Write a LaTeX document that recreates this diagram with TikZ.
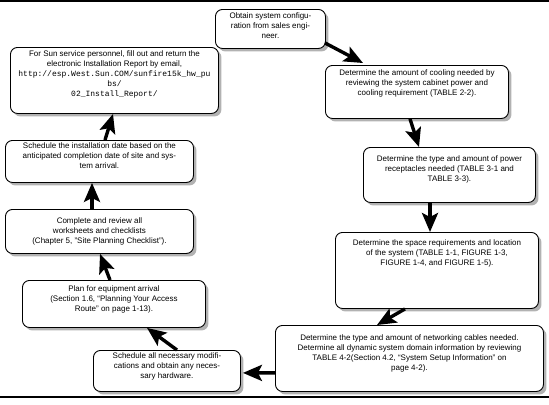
\documentclass[tikz,border=0pt]{standalone}
\usepackage{fontspec}
\setmainfont{Liberation Sans}
\setmonofont{Liberation Mono}
\usetikzlibrary{arrows.meta,shadows,calc}

\newcommand{\bxt}[4]{\parbox[c][#2bp][t]{#1bp}{\centering\vspace*{#3bp}#4\par}}
\newcommand{\urlt}[1]{{\ttfamily\fontsize{8bp}{10bp}\selectfont #1}}

\tikzset{
  stepbox/.style={draw=black, line width=0.9bp, rounded corners=7bp, fill=white,
    inner sep=0pt, anchor=north west,
    drop shadow={shadow xshift=3bp, shadow yshift=-3bp, fill=black!30, opacity=1},
    font=\fontsize{8bp}{10bp}\selectfont},
  flow/.style={line width=3.4bp, -{Stealth[length=19bp,width=16bp,inset=4bp]}},
  rule/.style={line width=1.5bp},
}

\begin{document}
\begin{tikzpicture}[x=1bp,y=-1bp]
\useasboundingbox (0,0) rectangle (549,404);
\draw[rule] (0,1) -- (549,1);
\draw[rule] (0,397) -- (549,397);

\node[stepbox] (sun) at (10,47) {\bxt{208}{66}{3}{For Sun service personnel, fill out and return the\\
electronic Installation Report by email,\\
\urlt{http://esp.West.Sun.COM/sunfire15k\_hw\_pu}\\
\urlt{bs/}\\
\urlt{02\_Install\_Report/}}};
\node[stepbox] (obtain) at (215,9) {\bxt{110}{39}{3}{Obtain system configu-\\ration from sales engi-\\neer.}};
\node[stepbox] (cool) at (325,65) {\bxt{183}{53}{4}{Determine the amount of cooling needed by\\reviewing the system cabinet power and\\cooling requirement (TABLE 2-2).}};
\node[stepbox] (sched) at (5,140) {\bxt{188}{42}{2}{Schedule the installation date based on the\\anticipated completion date of site and sys-\\tem arrival.}};
\node[stepbox] (power) at (363,147) {\bxt{172}{55}{8}{Determine the type and amount of power\\receptacles needed (TABLE 3-1 and\\TABLE 3-3).}};
\node[stepbox] (complete) at (5,209) {\bxt{188}{44}{8}{Complete and review all\\worksheets and checklists\\(Chapter 5, "Site Planning Checklist").}};
\node[stepbox] (space) at (335,232) {\bxt{203}{76}{7}{Determine the space requirements and location\\of the system (TABLE 1-1, FIGURE 1-3,\\FIGURE 1-4, and FIGURE 1-5).}};
\node[stepbox] (plan) at (22,280) {\bxt{183}{47}{5}{Plan for equipment arrival\\(Section 1.6, “Planning Your Access\\Route” on page 1-13).}};
\node[stepbox] (net) at (275,325) {\bxt{268}{66}{9}{Determine the type and amount of networking cables needed.\\Determine all dynamic system domain information by reviewing\\TABLE 4-2(Section 4.2, “System Setup Information” on\\page 4-2).}};
\node[stepbox] (mods) at (93,350) {\bxt{147}{41}{2}{Schedule all necessary modifi-\\cations and obtain any neces-\\sary hardware.}};

\draw[flow] ($(obtain.south east)+(-1,-6)$) -- ($(cool.north west)+(38,-2)$);
\draw[flow] ($(cool.south west)+(85,0)$) -- ($(power.north west)+(56,0)$);
\draw[flow] ($(power.south west)+(67,0)$) -- ($(space.north west)+(95,0)$);
\draw[flow] ($(space.south west)+(70,0)$) -- ($(net.north west)+(102,0)$);
\draw[flow] ($(net.south west)+(0,-19)$) -- ($(mods.south east)+(2,-19)$);
\draw[flow] ($(mods.north west)+(84,0)$) -- ($(plan.south west)+(125,0)$);
\draw[flow] ($(plan.north west)+(88,0)$) -- ($(complete.south west)+(95,0)$);
\draw[flow] ($(complete.north west)+(87,0)$) -- ($(sched.south west)+(87,0)$);
\draw[flow] ($(sched.north west)+(100,0)$) -- ($(sun.south west)+(103,0)$);
\end{tikzpicture}
\end{document}
